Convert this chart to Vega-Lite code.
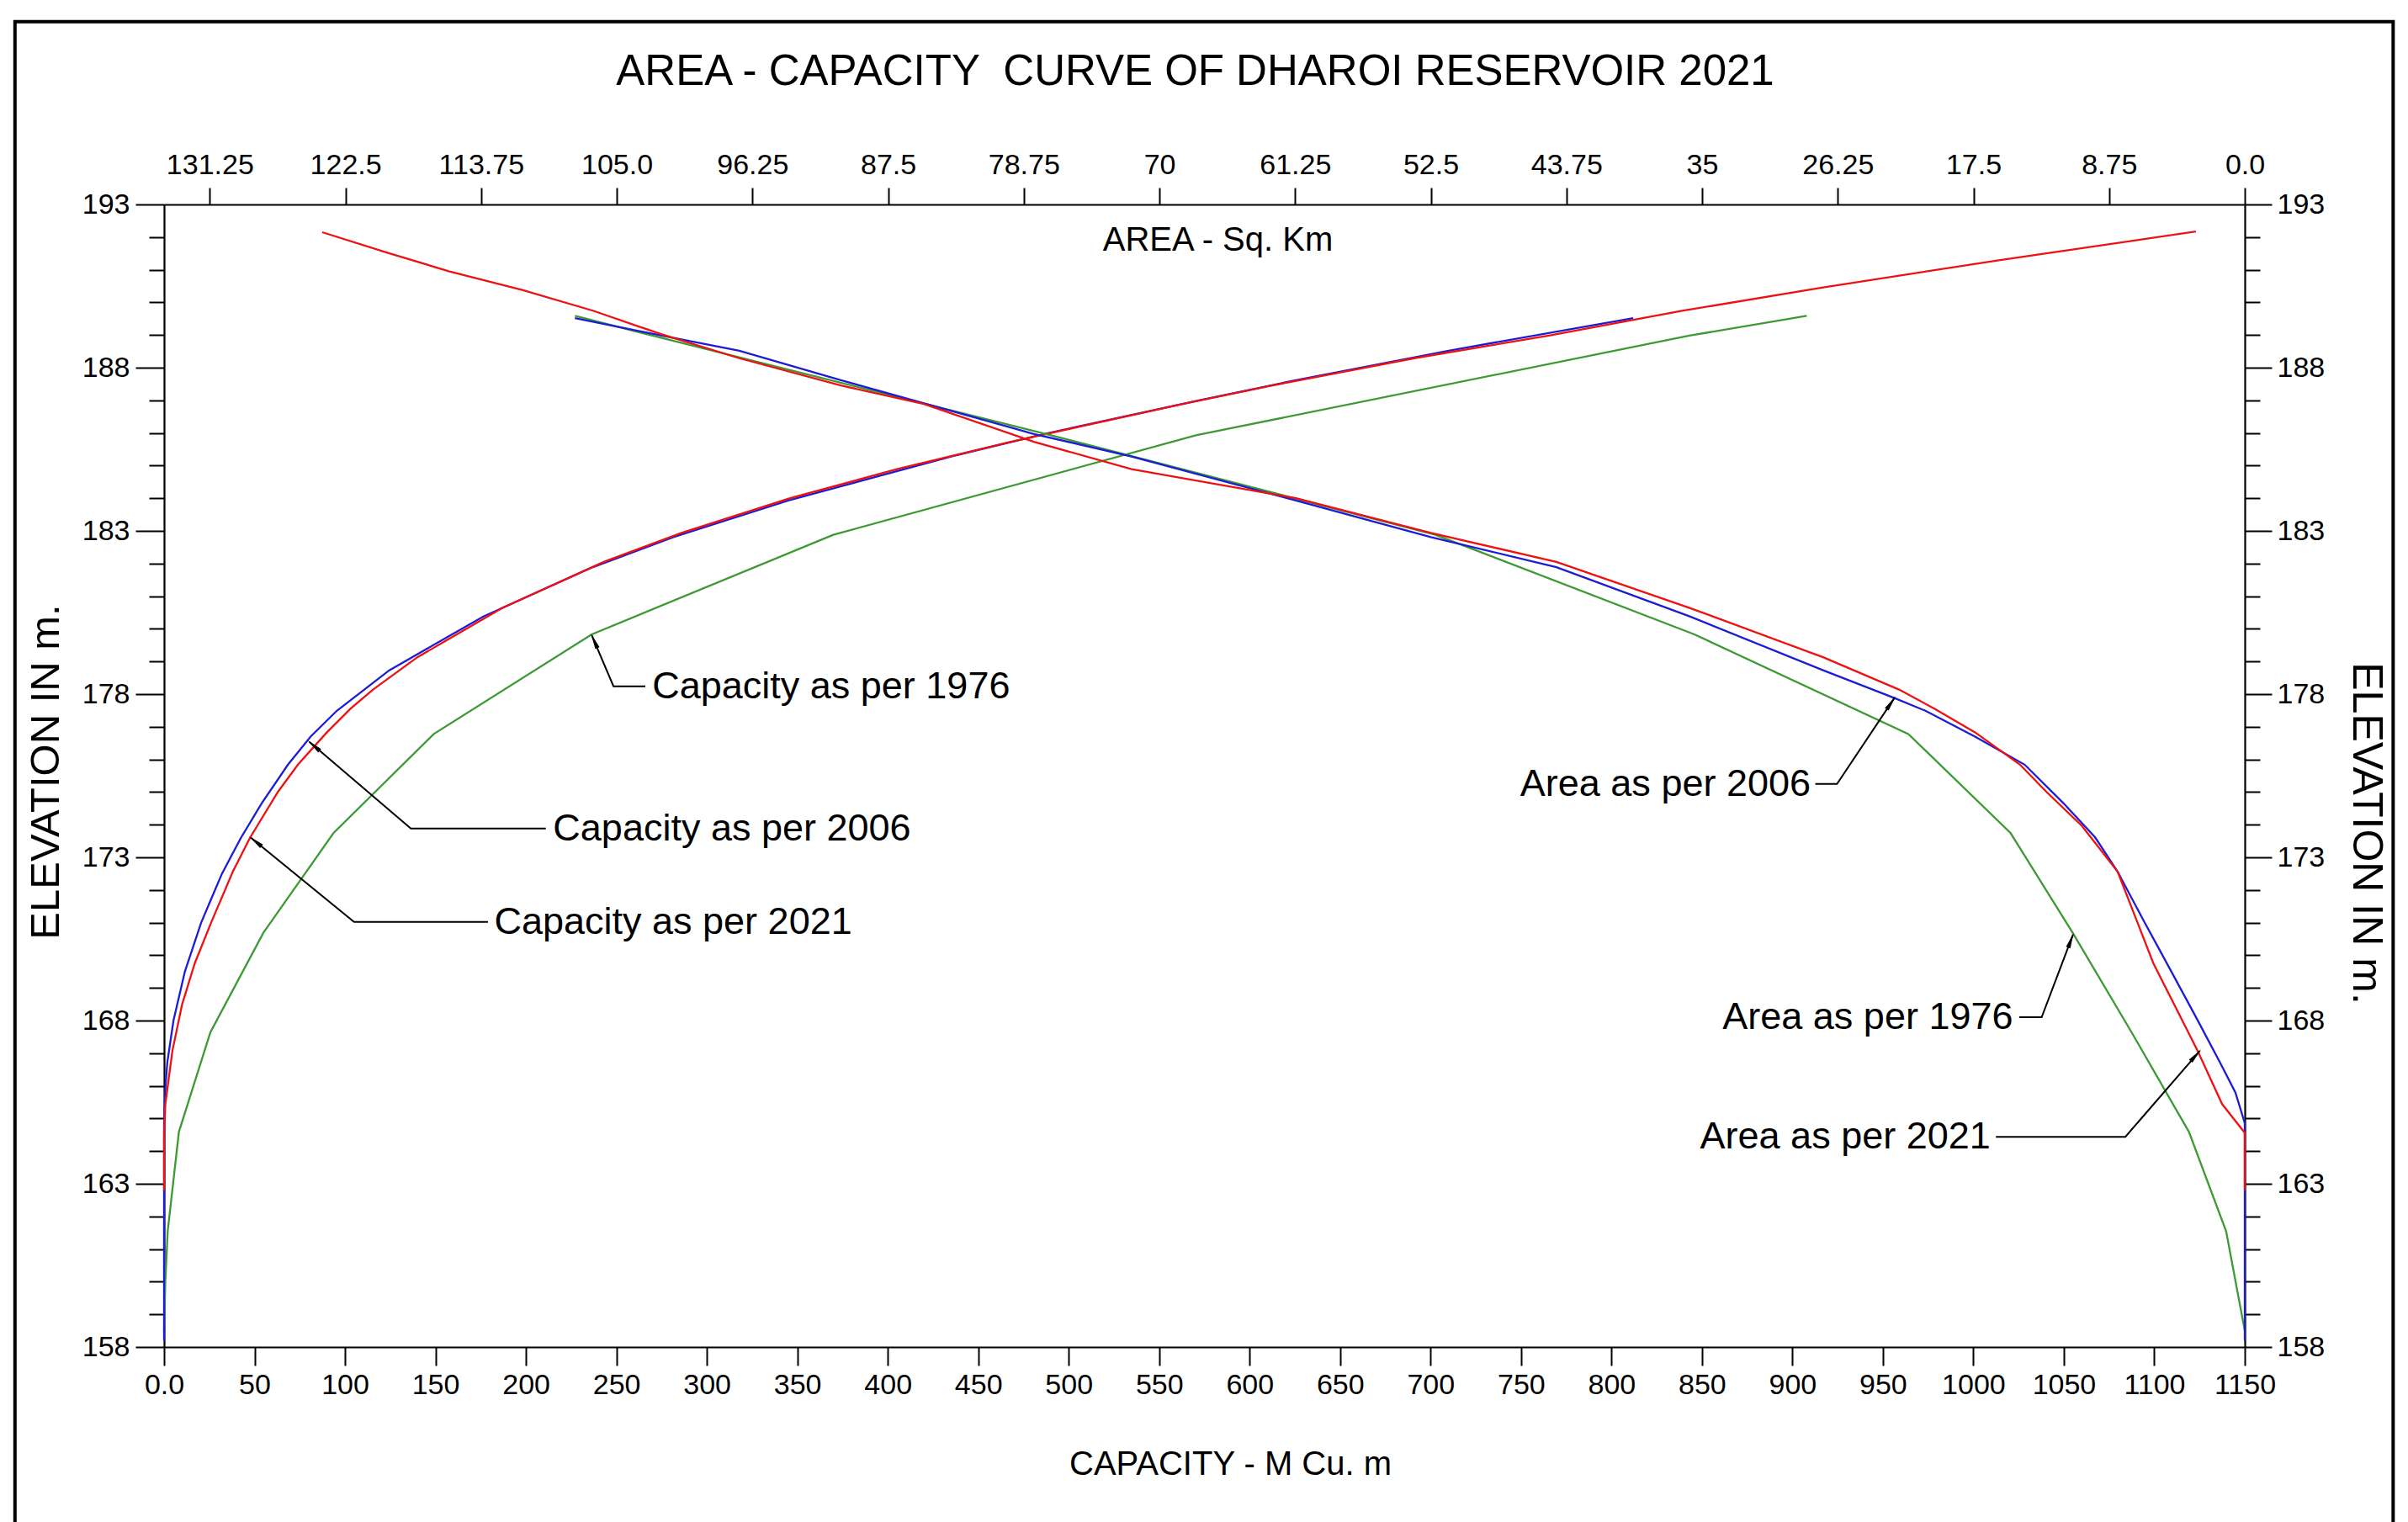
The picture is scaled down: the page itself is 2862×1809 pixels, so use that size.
{
  "$schema": "https://vega.github.io/schema/vega-lite/v6.json",
  "width": 2473,
  "height": 1358,
  "autosize": {"type": "none"},
  "padding": {"left": 195, "top": 243, "right": 194, "bottom": 208},
  "background": "white",
  "config": {
    "view": {"stroke": null},
    "font": "Liberation Sans",
    "axis": {
      "grid": false,
      "domainColor": "black",
      "domainWidth": 2.2,
      "tickColor": "black",
      "tickWidth": 2,
      "labelColor": "black",
      "titleColor": "black",
      "titleFontWeight": "normal",
      "labelFont": "Liberation Sans",
      "titleFont": "Liberation Sans",
      "labelOverlap": false,
      "labelFlush": false,
      "labelBound": false
    }
  },
  "title": {
    "text": "AREA - CAPACITY \u00a0CURVE OF DHAROI RESERVOIR 2021",
    "anchor": "middle",
    "frame": "group",
    "font": "Liberation Sans",
    "fontSize": 51,
    "fontWeight": "normal",
    "color": "black",
    "baseline": "alphabetic",
    "offset": -128,
    "dx": -11
  },
  "datasets": {
    "capacity": [
      {"survey": "1976", "elevation": 158.5, "capacity": 0},
      {"survey": "1976", "elevation": 160.0, "capacity": 0.7},
      {"survey": "1976", "elevation": 161.54, "capacity": 2.0},
      {"survey": "1976", "elevation": 164.59, "capacity": 8.2},
      {"survey": "1976", "elevation": 167.64, "capacity": 25.6},
      {"survey": "1976", "elevation": 170.69, "capacity": 54.9},
      {"survey": "1976", "elevation": 173.74, "capacity": 93.6},
      {"survey": "1976", "elevation": 176.78, "capacity": 149.1},
      {"survey": "1976", "elevation": 179.83, "capacity": 236.4},
      {"survey": "1976", "elevation": 182.88, "capacity": 369.9},
      {"survey": "1976", "elevation": 185.93, "capacity": 570.3},
      {"survey": "1976", "elevation": 188.98, "capacity": 843.0},
      {"survey": "1976", "elevation": 189.59, "capacity": 907.9},
      {"survey": "2006", "elevation": 158.2, "capacity": 0},
      {"survey": "2006", "elevation": 164.86, "capacity": 0},
      {"survey": "2006", "elevation": 166.0, "capacity": 0.8},
      {"survey": "2006", "elevation": 166.72, "capacity": 1.8},
      {"survey": "2006", "elevation": 168.0, "capacity": 5.2},
      {"survey": "2006", "elevation": 169.5, "capacity": 11.5},
      {"survey": "2006", "elevation": 171.0, "capacity": 20.5},
      {"survey": "2006", "elevation": 172.5, "capacity": 32.0},
      {"survey": "2006", "elevation": 173.6, "capacity": 42.5},
      {"survey": "2006", "elevation": 174.66, "capacity": 54.0},
      {"survey": "2006", "elevation": 175.84, "capacity": 68.5},
      {"survey": "2006", "elevation": 176.7, "capacity": 81.0},
      {"survey": "2006", "elevation": 177.49, "capacity": 95.5},
      {"survey": "2006", "elevation": 178.73, "capacity": 124.5},
      {"survey": "2006", "elevation": 180.38, "capacity": 176.5},
      {"survey": "2006", "elevation": 181.89, "capacity": 237.0},
      {"survey": "2006", "elevation": 182.81, "capacity": 281.5},
      {"survey": "2006", "elevation": 183.93, "capacity": 345.0},
      {"survey": "2006", "elevation": 185.28, "capacity": 435.0},
      {"survey": "2006", "elevation": 185.97, "capacity": 486.5},
      {"survey": "2006", "elevation": 187.0, "capacity": 572.0},
      {"survey": "2006", "elevation": 187.61, "capacity": 625.0},
      {"survey": "2006", "elevation": 188.52, "capacity": 710.0},
      {"survey": "2006", "elevation": 189.52, "capacity": 812.0},
      {"survey": "2021", "elevation": 162.8, "capacity": 0},
      {"survey": "2021", "elevation": 164.56, "capacity": 0},
      {"survey": "2021", "elevation": 165.44, "capacity": 0.7},
      {"survey": "2021", "elevation": 167.07, "capacity": 4.6},
      {"survey": "2021", "elevation": 168.5, "capacity": 10.0},
      {"survey": "2021", "elevation": 169.76, "capacity": 17.0},
      {"survey": "2021", "elevation": 171.0, "capacity": 26.0},
      {"survey": "2021", "elevation": 172.56, "capacity": 38.0},
      {"survey": "2021", "elevation": 173.6, "capacity": 47.5},
      {"survey": "2021", "elevation": 175.01, "capacity": 63.0},
      {"survey": "2021", "elevation": 175.84, "capacity": 74.0},
      {"survey": "2021", "elevation": 176.83, "capacity": 90.0},
      {"survey": "2021", "elevation": 177.55, "capacity": 103.0},
      {"survey": "2021", "elevation": 178.14, "capacity": 115.5},
      {"survey": "2021", "elevation": 179.13, "capacity": 140.0},
      {"survey": "2021", "elevation": 180.64, "capacity": 187.0},
      {"survey": "2021", "elevation": 182.05, "capacity": 243.0},
      {"survey": "2021", "elevation": 182.94, "capacity": 286.0},
      {"survey": "2021", "elevation": 184.0, "capacity": 346.0},
      {"survey": "2021", "elevation": 184.89, "capacity": 405.0},
      {"survey": "2021", "elevation": 185.73, "capacity": 468.0},
      {"survey": "2021", "elevation": 186.89, "capacity": 563.0},
      {"survey": "2021", "elevation": 187.45, "capacity": 612.0},
      {"survey": "2021", "elevation": 188.29, "capacity": 691.0},
      {"survey": "2021", "elevation": 188.99, "capacity": 766.0},
      {"survey": "2021", "elevation": 189.74, "capacity": 839.0},
      {"survey": "2021", "elevation": 190.46, "capacity": 917.0},
      {"survey": "2021", "elevation": 191.29, "capacity": 1014.0},
      {"survey": "2021", "elevation": 192.17, "capacity": 1123.0}
    ],
    "area": [
      {"survey": "1976", "elevation": 158.5, "area": 0},
      {"survey": "1976", "elevation": 161.54, "area": 1.2},
      {"survey": "1976", "elevation": 164.59, "area": 3.6},
      {"survey": "1976", "elevation": 167.64, "area": 7.3},
      {"survey": "1976", "elevation": 170.69, "area": 11.1},
      {"survey": "1976", "elevation": 173.74, "area": 15.1},
      {"survey": "1976", "elevation": 176.78, "area": 21.7},
      {"survey": "1976", "elevation": 179.83, "area": 35.5},
      {"survey": "1976", "elevation": 182.88, "area": 52.2},
      {"survey": "1976", "elevation": 185.93, "area": 77.0},
      {"survey": "1976", "elevation": 188.98, "area": 102.7},
      {"survey": "1976", "elevation": 189.59, "area": 107.7},
      {"survey": "2006", "elevation": 158.2, "area": 0},
      {"survey": "2006", "elevation": 164.86, "area": 0},
      {"survey": "2006", "elevation": 165.79, "area": 0.6},
      {"survey": "2006", "elevation": 166.72, "area": 1.6},
      {"survey": "2006", "elevation": 168.01, "area": 3.04},
      {"survey": "2006", "elevation": 169.53, "area": 4.77},
      {"survey": "2006", "elevation": 171.04, "area": 6.5},
      {"survey": "2006", "elevation": 172.56, "area": 8.2},
      {"survey": "2006", "elevation": 173.61, "area": 9.65},
      {"survey": "2006", "elevation": 174.66, "area": 11.7},
      {"survey": "2006", "elevation": 175.84, "area": 14.2},
      {"survey": "2006", "elevation": 176.7, "area": 17.4},
      {"survey": "2006", "elevation": 177.49, "area": 20.6},
      {"survey": "2006", "elevation": 177.88, "area": 22.6},
      {"survey": "2006", "elevation": 178.73, "area": 27.2},
      {"survey": "2006", "elevation": 180.38, "area": 35.8},
      {"survey": "2006", "elevation": 181.89, "area": 44.4},
      {"survey": "2006", "elevation": 182.81, "area": 52.5},
      {"survey": "2006", "elevation": 183.93, "area": 61.2},
      {"survey": "2006", "elevation": 185.28, "area": 71.8},
      {"survey": "2006", "elevation": 185.97, "area": 78.1},
      {"survey": "2006", "elevation": 187.61, "area": 90.5},
      {"survey": "2006", "elevation": 188.52, "area": 97.1},
      {"survey": "2006", "elevation": 188.98, "area": 102.1},
      {"survey": "2006", "elevation": 189.52, "area": 107.7},
      {"survey": "2021", "elevation": 162.8, "area": 0},
      {"survey": "2021", "elevation": 164.56, "area": 0},
      {"survey": "2021", "elevation": 165.44, "area": 1.46},
      {"survey": "2021", "elevation": 167.07, "area": 3.04},
      {"survey": "2021", "elevation": 169.76, "area": 5.9},
      {"survey": "2021", "elevation": 172.56, "area": 8.2},
      {"survey": "2021", "elevation": 173.96, "area": 10.5},
      {"survey": "2021", "elevation": 175.01, "area": 12.8},
      {"survey": "2021", "elevation": 175.84, "area": 14.5},
      {"survey": "2021", "elevation": 176.83, "area": 17.4},
      {"survey": "2021", "elevation": 177.55, "area": 20.0},
      {"survey": "2021", "elevation": 178.14, "area": 22.3},
      {"survey": "2021", "elevation": 179.13, "area": 27.2},
      {"survey": "2021", "elevation": 180.64, "area": 35.8},
      {"survey": "2021", "elevation": 182.05, "area": 44.4},
      {"survey": "2021", "elevation": 182.94, "area": 52.5},
      {"survey": "2021", "elevation": 184.0, "area": 61.2},
      {"survey": "2021", "elevation": 184.89, "area": 71.8},
      {"survey": "2021", "elevation": 185.73, "area": 78.1},
      {"survey": "2021", "elevation": 186.89, "area": 85.2},
      {"survey": "2021", "elevation": 187.45, "area": 90.5},
      {"survey": "2021", "elevation": 188.29, "area": 97.1},
      {"survey": "2021", "elevation": 189.02, "area": 102.1},
      {"survey": "2021", "elevation": 189.74, "area": 106.5},
      {"survey": "2021", "elevation": 190.38, "area": 111.1},
      {"survey": "2021", "elevation": 190.95, "area": 115.8},
      {"survey": "2021", "elevation": 191.52, "area": 119.8},
      {"survey": "2021", "elevation": 192.15, "area": 124.0}
    ],
    "capLeaders": [
      {"label": "Capacity as per 1976", "seq": 0, "capacity": 236.4, "elevation": 179.8},
      {"label": "Capacity as per 1976", "seq": 1, "capacity": 248.4, "elevation": 178.24},
      {"label": "Capacity as per 1976", "seq": 2, "capacity": 266.0, "elevation": 178.24},
      {"label": "Capacity as per 2006", "seq": 0, "capacity": 80.3, "elevation": 176.54},
      {"label": "Capacity as per 2006", "seq": 1, "capacity": 136.4, "elevation": 173.88},
      {"label": "Capacity as per 2006", "seq": 2, "capacity": 211.0, "elevation": 173.88},
      {"label": "Capacity as per 2021", "seq": 0, "capacity": 48.0, "elevation": 173.6},
      {"label": "Capacity as per 2021", "seq": 1, "capacity": 105.0, "elevation": 171.02},
      {"label": "Capacity as per 2021", "seq": 2, "capacity": 179.0, "elevation": 171.02}
    ],
    "capArrows": [
      {"label": "Capacity as per 1976", "capacity": 238.3, "elevation": 179.56, "direction": 336},
      {"label": "Capacity as per 2006", "capacity": 83.8, "elevation": 176.37, "direction": 310},
      {"label": "Capacity as per 2021", "capacity": 51.6, "elevation": 173.44, "direction": 309}
    ],
    "capLabels": [
      {"label": "Capacity as per 1976", "capacity": 269.8, "elevation": 178.24},
      {"label": "Capacity as per 2006", "capacity": 215.0, "elevation": 173.88},
      {"label": "Capacity as per 2021", "capacity": 182.5, "elevation": 171.02}
    ],
    "areaLeaders": [
      {"label": "Area as per 2006", "seq": 0, "area": 22.6, "elevation": 177.88},
      {"label": "Area as per 2006", "seq": 1, "area": 26.3, "elevation": 175.25},
      {"label": "Area as per 2006", "seq": 2, "area": 27.7, "elevation": 175.25},
      {"label": "Area as per 1976", "seq": 0, "area": 11.08, "elevation": 170.63},
      {"label": "Area as per 1976", "seq": 1, "area": 13.1, "elevation": 168.1},
      {"label": "Area as per 1976", "seq": 2, "area": 14.55, "elevation": 168.1},
      {"label": "Area as per 2021", "seq": 0, "area": 2.9, "elevation": 167.07},
      {"label": "Area as per 2021", "seq": 1, "area": 7.7, "elevation": 164.44},
      {"label": "Area as per 2021", "seq": 2, "area": 16.05, "elevation": 164.44}
    ],
    "areaArrows": [
      {"label": "Area as per 2006", "area": 22.9, "elevation": 177.67, "direction": 34.5},
      {"label": "Area as per 1976", "area": 11.27, "elevation": 170.39, "direction": 20.5},
      {"label": "Area as per 2021", "area": 3.26, "elevation": 166.88, "direction": 41.3}
    ],
    "areaLabels": [
      {"label": "Area as per 2006", "area": 28.0, "elevation": 175.25},
      {"label": "Area as per 1976", "area": 14.95, "elevation": 168.1},
      {"label": "Area as per 2021", "area": 16.4, "elevation": 164.44}
    ],
    "frame": [
      {"left": -82.4, "right": 1232.0, "top": 198.6, "bottom": 152.0}
    ]
  },
  "layer": [
    {
      "data": {"name": "frame"},
      "mark": {"type": "rect", "filled": false, "stroke": "black", "strokeWidth": 4, "clip": false},
      "encoding": {
        "x": {"field": "left", "type": "quantitative", "scale": {"domain": [0, 1150], "nice": false, "zero": false}, "axis": null},
        "x2": {"field": "right"},
        "y": {"field": "top", "type": "quantitative", "scale": {"domain": [158, 193], "nice": false, "zero": false}, "axis": null},
        "y2": {"field": "bottom"}
      }
    },
    {
      "data": {"name": "capacity"},
      "mark": {"type": "line", "strokeWidth": 2.3, "clip": false},
      "encoding": {
        "x": {
          "field": "capacity", "type": "quantitative",
          "scale": {"domain": [0, 1150], "nice": false, "zero": false},
          "axis": {
            "orient": "bottom",
            "values": [0, 50, 100, 150, 200, 250, 300, 350, 400, 450, 500, 550, 600, 650, 700, 750, 800, 850, 900, 950, 1000, 1050, 1100, 1150],
            "format": "d",
            "labelExpr": "datum.value == 0 ? '0.0' : datum.label",
            "labelFontSize": 34,
            "labelPadding": 6,
            "tickSize": 22,
            "title": "CAPACITY - M Cu. m",
            "titleFontSize": 40,
            "titleX": 1267,
            "titleY": 151,
            "titleAlign": "center",
            "titleBaseline": "alphabetic"
          }
        },
        "y": {
          "field": "elevation", "type": "quantitative",
          "scale": {"domain": [158, 193], "nice": false, "zero": false},
          "axis": {
            "orient": "left",
            "values": [158, 159, 160, 161, 162, 163, 164, 165, 166, 167, 168, 169, 170, 171, 172, 173, 174, 175, 176, 177, 178, 179, 180, 181, 182, 183, 184, 185, 186, 187, 188, 189, 190, 191, 192, 193],
            "format": "d",
            "labelExpr": "(datum.value - 158) % 5 == 0 ? datum.label : ''",
            "tickSize": {"condition": {"test": "(datum.value - 158) % 5 == 0", "value": 34}, "value": 18},
            "labelFontSize": 34,
            "labelPadding": 7,
            "title": "ELEVATION IN m.",
            "titleFontSize": 49,
            "titleX": -126,
            "titleY": 674,
            "titleAlign": "center",
            "titleBaseline": "alphabetic",
            "titleAngle": -90
          }
        },
        "color": {"field": "survey", "type": "nominal", "scale": {"domain": ["1976", "2006", "2021"], "range": ["#3d9a33", "#1c1cd6", "#ee1111"]}, "legend": null},
        "order": {"field": "elevation", "type": "quantitative"}
      }
    },
    {
      "data": {"name": "area"},
      "mark": {"type": "line", "strokeWidth": 2.3, "clip": false},
      "encoding": {
        "x": {
          "field": "area", "type": "quantitative",
          "scale": {"domain": [0, 134.2], "reverse": true, "nice": false, "zero": false},
          "axis": {
            "orient": "top",
            "values": [0, 8.75, 17.5, 26.25, 35, 43.75, 52.5, 61.25, 70, 78.75, 87.5, 96.25, 105, 113.75, 122.5, 131.25],
            "format": ".2~f",
            "labelExpr": "datum.value == 0 ? '0.0' : (datum.value == 105 ? '105.0' : datum.label)",
            "labelFontSize": 34,
            "labelPadding": 10,
            "tickSize": 20,
            "title": "AREA - Sq. Km",
            "titleFontSize": 40,
            "titleX": 1252,
            "titleY": 54,
            "titleAlign": "center",
            "titleBaseline": "alphabetic"
          }
        },
        "y": {
          "field": "elevation", "type": "quantitative",
          "scale": {"domain": [158, 193], "nice": false, "zero": false},
          "axis": {
            "orient": "right",
            "values": [158, 159, 160, 161, 162, 163, 164, 165, 166, 167, 168, 169, 170, 171, 172, 173, 174, 175, 176, 177, 178, 179, 180, 181, 182, 183, 184, 185, 186, 187, 188, 189, 190, 191, 192, 193],
            "format": "d",
            "labelExpr": "(datum.value - 158) % 5 == 0 ? datum.label : ''",
            "tickSize": {"condition": {"test": "(datum.value - 158) % 5 == 0", "value": 32}, "value": 18},
            "labelFontSize": 34,
            "labelPadding": 6,
            "title": "ELEVATION IN m.",
            "titleFontSize": 50,
            "titleX": 128,
            "titleY": 747,
            "titleAlign": "center",
            "titleBaseline": "alphabetic",
            "titleAngle": 90
          }
        },
        "color": {"field": "survey", "type": "nominal", "scale": {"domain": ["1976", "2006", "2021"], "range": ["#3d9a33", "#1c1cd6", "#ee1111"]}, "legend": null},
        "order": {"field": "elevation", "type": "quantitative"}
      }
    },
    {
      "data": {"name": "capLeaders"},
      "mark": {"type": "line", "color": "black", "strokeWidth": 2, "clip": false},
      "encoding": {
        "x": {"field": "capacity", "type": "quantitative", "scale": {"domain": [0, 1150], "nice": false, "zero": false}, "axis": null},
        "y": {"field": "elevation", "type": "quantitative", "scale": {"domain": [158, 193], "nice": false, "zero": false}, "axis": null},
        "detail": {"field": "label"},
        "order": {"field": "seq", "type": "quantitative"}
      }
    },
    {
      "data": {"name": "capArrows"},
      "mark": {"type": "point", "shape": "wedge", "filled": true, "color": "black", "size": 480, "opacity": 1, "clip": false},
      "encoding": {
        "x": {"field": "capacity", "type": "quantitative", "scale": {"domain": [0, 1150], "nice": false, "zero": false}, "axis": null},
        "y": {"field": "elevation", "type": "quantitative", "scale": {"domain": [158, 193], "nice": false, "zero": false}, "axis": null},
        "angle": {"field": "direction", "type": "quantitative", "scale": null}
      }
    },
    {
      "data": {"name": "capLabels"},
      "mark": {"type": "text", "align": "left", "baseline": "middle", "font": "Liberation Sans", "fontSize": 45, "color": "black", "clip": false},
      "encoding": {
        "x": {"field": "capacity", "type": "quantitative", "scale": {"domain": [0, 1150], "nice": false, "zero": false}, "axis": null},
        "y": {"field": "elevation", "type": "quantitative", "scale": {"domain": [158, 193], "nice": false, "zero": false}, "axis": null},
        "text": {"field": "label"}
      }
    },
    {
      "data": {"name": "areaLeaders"},
      "mark": {"type": "line", "color": "black", "strokeWidth": 2, "clip": false},
      "encoding": {
        "x": {"field": "area", "type": "quantitative", "scale": {"domain": [0, 134.2], "reverse": true, "nice": false, "zero": false}, "axis": null},
        "y": {"field": "elevation", "type": "quantitative", "scale": {"domain": [158, 193], "nice": false, "zero": false}, "axis": null},
        "detail": {"field": "label"},
        "order": {"field": "seq", "type": "quantitative"}
      }
    },
    {
      "data": {"name": "areaArrows"},
      "mark": {"type": "point", "shape": "wedge", "filled": true, "color": "black", "size": 480, "opacity": 1, "clip": false},
      "encoding": {
        "x": {"field": "area", "type": "quantitative", "scale": {"domain": [0, 134.2], "reverse": true, "nice": false, "zero": false}, "axis": null},
        "y": {"field": "elevation", "type": "quantitative", "scale": {"domain": [158, 193], "nice": false, "zero": false}, "axis": null},
        "angle": {"field": "direction", "type": "quantitative", "scale": null}
      }
    },
    {
      "data": {"name": "areaLabels"},
      "mark": {"type": "text", "align": "right", "baseline": "middle", "font": "Liberation Sans", "fontSize": 45, "color": "black", "clip": false},
      "encoding": {
        "x": {"field": "area", "type": "quantitative", "scale": {"domain": [0, 134.2], "reverse": true, "nice": false, "zero": false}, "axis": null},
        "y": {"field": "elevation", "type": "quantitative", "scale": {"domain": [158, 193], "nice": false, "zero": false}, "axis": null},
        "text": {"field": "label"}
      }
    }
  ],
  "resolve": {"scale": {"x": "independent"}, "axis": {"x": "independent", "y": "independent"}}
}
